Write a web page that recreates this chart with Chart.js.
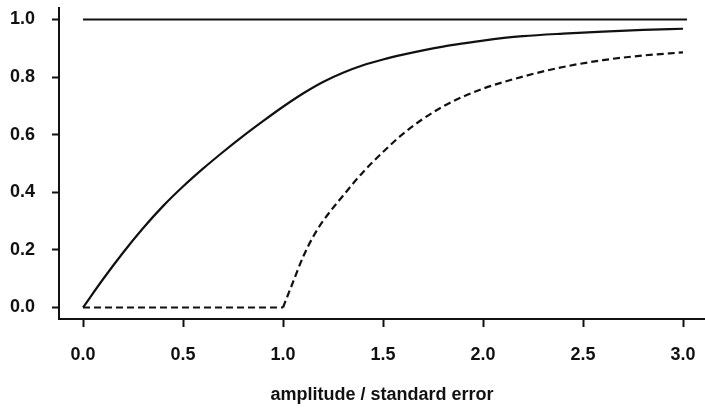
<!DOCTYPE html>
<html>
<head>
<meta charset="utf-8">
<script src="https://cdn.jsdelivr.net/npm/chart.js@4.4.1/dist/chart.umd.min.js"></script>
<style>
  html, body { margin: 0; padding: 0; background: #fff; overflow: hidden; }
</style>
</head>
<body>
<canvas id="chart" width="705" height="412"></canvas>
<script>
const xTicks = [0, 0.5, 1, 1.5, 2, 2.5, 3];
const yTicks = [0, 0.2, 0.4, 0.6, 0.8, 1];

const upperX = [0, 3.02];
const upperY = [1, 1];

const solidX = [0, 0.1, 0.2, 0.3, 0.4, 0.5, 0.6, 0.7, 0.8, 0.9, 1.0, 1.1, 1.2, 1.3, 1.4, 1.5,
  1.6, 1.7, 1.8, 1.9, 2.0, 2.2, 2.4, 2.6, 2.8, 3.0];
const solidY = [0, 0.098, 0.19, 0.275, 0.352, 0.42, 0.482, 0.54, 0.595, 0.647, 0.697, 0.743,
  0.783, 0.815, 0.841, 0.861, 0.878, 0.893, 0.906, 0.917, 0.927, 0.942, 0.951, 0.958, 0.964, 0.968];

const dashedX = [0, 1.0, 1.05, 1.1, 1.15, 1.2, 1.3, 1.4, 1.5, 1.6, 1.7, 1.8, 1.9, 2.0, 2.2,
  2.4, 2.6, 2.8, 3.0];
const dashedY = [0, 0, 0.088, 0.175, 0.245, 0.30, 0.388, 0.47, 0.54, 0.603, 0.655, 0.698,
  0.732, 0.76, 0.802, 0.835, 0.859, 0.875, 0.886];

const ink = '#111';
const face = 'Liberation Sans, Arial, Helvetica, sans-serif';

function points(xs, ys) {
  return xs.map((x, i) => ({ x, y: ys[i] }));
}

function line(data, dash) {
  return {
    data,
    borderColor: ink,
    borderWidth: 2.2,
    borderDash: dash,
    pointRadius: 0,
    cubicInterpolationMode: 'monotone',
    fill: false,
  };
}

// axis boxes get fixed sizes so the plot area sits where the reference has it
function fitY(scale) {
  scale.width = 59;
  scale.paddingTop = 0;
  scale.paddingBottom = 0;
}

function fitX(scale) {
  scale.height = 93;
  scale.paddingLeft = 0;
  scale.paddingRight = 0;
}

// the dashed curve has a sharp corner at x = 1, so draw it in two pieces
const kink = dashedX.indexOf(1);

new Chart(document.getElementById('chart'), {
  type: 'line',
  data: {
    datasets: [
      line(points(upperX, upperY), []),
      line(points(solidX, solidY), []),
      line(points(dashedX.slice(0, kink + 1), dashedY.slice(0, kink + 1)), [7, 4]),
      line(points(dashedX.slice(kink), dashedY.slice(kink)), [7, 4]),
    ],
  },
  options: {
    responsive: false,
    animation: false,
    layout: { padding: { left: 0, top: 8, right: 0, bottom: 0 } },
    plugins: { legend: { display: false }, tooltip: { enabled: false } },
    scales: {
      x: {
        type: 'linear',
        min: -0.12,
        max: 3.11,
        afterBuildTicks: s => { s.ticks = xTicks.map(v => ({ value: v })); },
        afterFit: fitX,
        border: { color: ink, width: 2 },
        grid: { drawOnChartArea: false, tickLength: 8, tickColor: ink, tickWidth: 2 },
        ticks: {
          color: ink,
          font: { family: face, size: 18, weight: 'bold' },
          padding: 17,
          maxRotation: 0,
          autoSkip: false,
          callback: v => v.toFixed(1),
        },
        title: {
          display: true,
          text: 'amplitude / standard error',
          color: ink,
          font: { family: face, size: 18, weight: 'bold' },
          padding: { top: 19, bottom: 6 },
        },
      },
      y: {
        type: 'linear',
        min: -0.04,
        max: 1.04,
        afterBuildTicks: s => { s.ticks = yTicks.map(v => ({ value: v })); },
        afterFit: fitY,
        border: { color: ink, width: 2 },
        grid: { drawOnChartArea: false, tickLength: 7, tickColor: ink, tickWidth: 2 },
        ticks: {
          color: ink,
          font: { family: face, size: 18, weight: 'bold' },
          padding: 17,
          autoSkip: false,
          callback: v => v.toFixed(1),
        },
      },
    },
  },
});
</script>
</body>
</html>
